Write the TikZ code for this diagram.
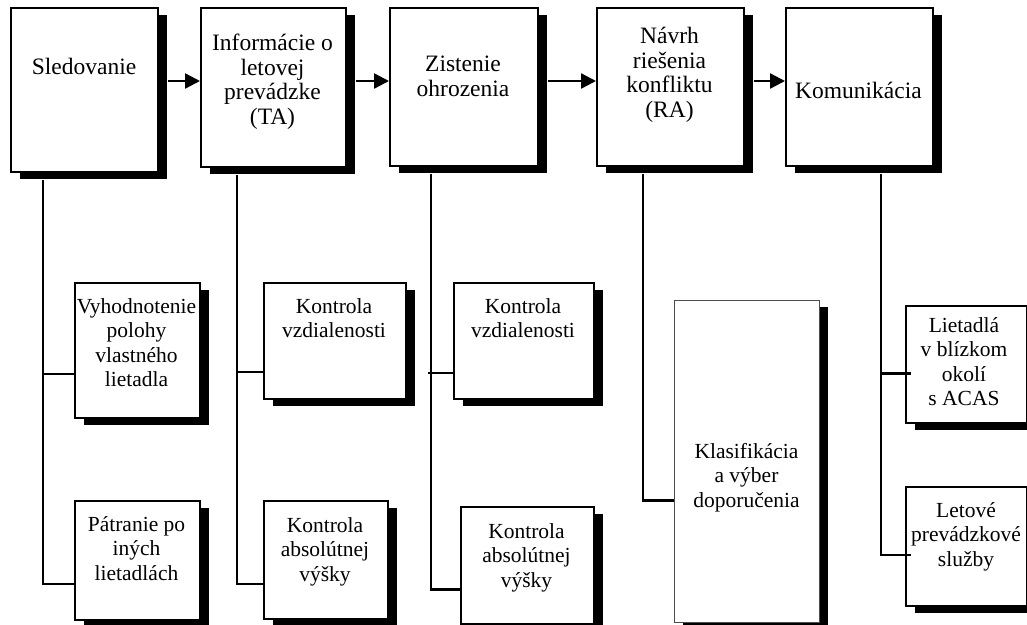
\documentclass[tikz,border=0pt]{standalone}
\usepackage{fontspec}
\setmainfont{Liberation Serif}
\usetikzlibrary{shadows,arrows.meta,positioning}

\newcommand\topfont{\fontsize{23.5}{24.5}\selectfont}
\newcommand\subfont{\fontsize{21.5}{24.5}\selectfont}

\tikzset{
	box/.style={draw, line width=1.9pt, fill=white, anchor=north west, inner sep=0pt,
		drop shadow={shadow xshift=9pt, shadow yshift=-7pt, fill=black, opacity=1}},
	thinbox/.style={box, line width=0.9pt, draw=black!70},
	toptxt/.style={align=center, inner sep=0pt, anchor=north, font=\topfont},
	subtxt/.style={align=center, inner sep=0pt, anchor=north, font=\subfont},
	link/.style={line width=2.4pt},
	arr/.style={line width=2.4pt, -{Triangle[length=15pt,width=15pt]}}
}

\begin{document}
\begin{tikzpicture}[x=1pt, y=-1pt]

	\useasboundingbox (0,0) rectangle (1027,624);

	% main chain
	\node[box, minimum width=147pt, minimum height=164pt] (sled) at (10,7) {};
	\node[box, minimum width=145pt, minimum height=159pt] (info) at (200,7) {};
	\node[box, minimum width=148pt, minimum height=158pt] (zist) at (389,7) {};
	\node[box, minimum width=147pt, minimum height=158pt] (navrh) at (596,7) {};
	\node[box, minimum width=147pt, minimum height=158pt] (komu) at (785,7) {};

	\node[toptxt] (sled-t) at (84,58) {Sledovanie};
	\node[toptxt] (info-t) at (272.5,34) {Informácie o\\letovej\\prevádzke\\(TA)};
	\node[toptxt] (zist-t) at (463,56) {Zistenie\\ohrozenia};
	\node[toptxt] (navrh-t) at (669.5,27) {Návrh\\riešenia\\konfliktu\\(RA)};
	\node[toptxt] (komu-t) at (858.5,82) {Komunikácia};

	% sub tasks
	\node[box, minimum width=125pt, minimum height=135pt] (vyh) at (74,282) {};
	\node[box, minimum width=125pt, minimum height=119pt] (pat) at (74,500) {};
	\node[box, minimum width=142pt, minimum height=116pt] (kv1) at (263,282) {};
	\node[box, minimum width=124pt, minimum height=118pt] (ka1) at (263,500) {};
	\node[box, minimum width=140pt, minimum height=116pt] (kv2) at (453,282) {};
	\node[box, minimum width=133pt, minimum height=117pt] (ka2) at (460,506) {};
	\node[thinbox, minimum width=145pt, minimum height=322pt] (klas) at (674,300) {};
	\node[box, minimum width=121pt, minimum height=117pt] (liet) at (905,305) {};
	\node[box, minimum width=121pt, minimum height=119pt] (letov) at (905,486) {};

	\node[subtxt] (vyh-t) at (136.5,298) {Vyhodnotenie\\polohy\\vlastného\\lietadla};
	\node[subtxt] (pat-t) at (136.5,516) {Pátranie po\\iných\\lietadlách};
	\node[subtxt] (kv1-t) at (334,298) {Kontrola\\vzdialenosti};
	\node[subtxt] (ka1-t) at (325,517) {Kontrola\\absolútnej\\výšky};
	\node[subtxt] (kv2-t) at (523,298) {Kontrola\\vzdialenosti};
	\node[subtxt] (ka2-t) at (526.5,523) {Kontrola\\absolútnej\\výšky};
	\node[subtxt] (klas-t) at (746.5,443) {Klasifikácia\\a výber\\doporučenia};
	\node[subtxt] (liet-t) at (964,317) {Lietadlá\\v blízkom\\okolí\\s ACAS};
	\node[subtxt] (letov-t) at (966,502) {Letové\\prevádzkové\\služby};

	% arrows
	\draw[arr] ([xshift=9pt,yshift=-74pt]sled.north east) -- ([yshift=-74pt]info.north west);
	\draw[arr] ([xshift=9pt,yshift=-74pt]info.north east) -- ([yshift=-74pt]zist.north west);
	\draw[arr] ([xshift=9pt,yshift=-74pt]zist.north east) -- ([yshift=-74pt]navrh.north west);
	\draw[arr] ([xshift=9pt,yshift=-74pt]navrh.north east) -- ([yshift=-74pt]komu.north west);

	% branches
	\coordinate (sled-f) at ([xshift=33pt,yshift=-7pt]sled.south west);
	\coordinate (info-f) at ([xshift=37pt,yshift=-7pt]info.south west);
	\coordinate (zist-f) at ([xshift=42pt,yshift=-7pt]zist.south west);
	\coordinate (navrh-f) at ([xshift=47pt,yshift=-7pt]navrh.south west);
	\coordinate (komu-f) at ([xshift=96pt,yshift=-7pt]komu.south west);

	\draw[link] (sled-f) |- ([yshift=-23.5pt]vyh.west);
	\draw[link] (sled-f) |- ([yshift=-23.5pt]pat.west);
	\draw[link] (info-f) |- ([yshift=-31pt]kv1.west);
	\draw[link] (info-f) |- ([yshift=-24pt]ka1.west);
	\draw[link] (zist-f) |- ([yshift=-24pt]ka2.west);
	\draw[link] ([xshift=-3pt]zist-f |- kv2.west) ++(0,32) -- ([yshift=-32pt]kv2.west);
	\draw[link] (navrh-f) |- ([yshift=-39pt]klas.west);
	\draw[link] (komu-f) |- ([xshift=6pt,yshift=-9pt]liet.west);
	\draw[link] (komu-f) |- ([xshift=6pt,yshift=-8.5pt]letov.west);

\end{tikzpicture}
\end{document}
